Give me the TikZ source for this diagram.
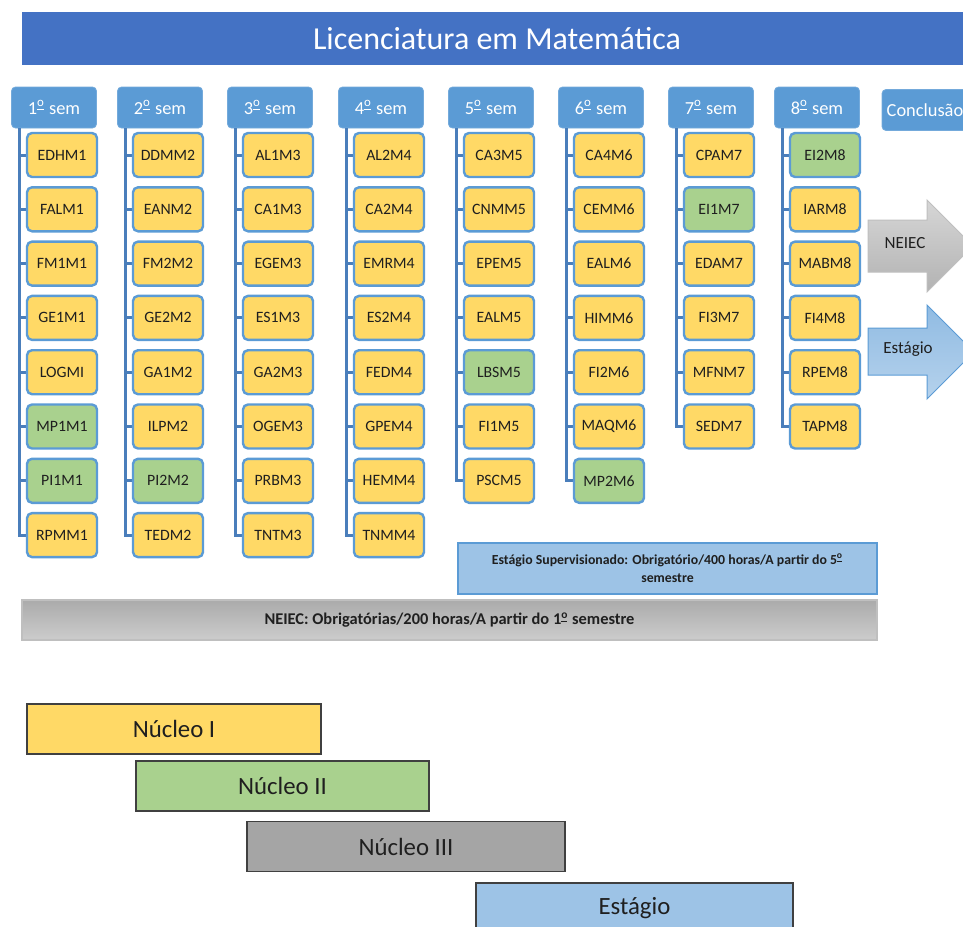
\documentclass[tikz,border=0pt]{standalone}
\usepackage{fontspec}
\setmainfont{Carlito}
\usepackage{tikz}
\usetikzlibrary{positioning}
\definecolor{titleblue}{HTML}{4472C4}
\definecolor{semblue}{HTML}{5B9BD5}
\definecolor{linkblue}{HTML}{4A7EBB}
\definecolor{yl}{HTML}{FFD966}
\definecolor{gr}{HTML}{A9D18E}
\definecolor{coregry}{HTML}{A5A5A5}
\definecolor{stagblue}{HTML}{9DC3E6}
\definecolor{txtdark}{HTML}{1F1F1F}
% ordinal mark with its bar, as in "1º"
\newcommand{\ordsup}{\textsuperscript{\underline{o}}}

\begin{document}
\begin{tikzpicture}[
  x=0.5pt, y=-0.5pt,
  every node/.style={align=center, inner sep=0pt},
  titlebar/.style={fill=titleblue, text=white, minimum width=475pt,
                   minimum height=26.5pt, font=\fontsize{16}{19}\selectfont},
  semhead/.style={fill=semblue, draw=semblue!85!white, rounded corners=2pt,
                  text=white, minimum width=42.5pt, minimum height=20.5pt,
                  font=\fontsize{9.2}{11}\selectfont},
  course/.style={draw=semblue, line width=1.2pt, rounded corners=2.5pt,
                 minimum width=35pt, minimum height=22pt, text=txtdark,
                 font=\fontsize{7.9}{9}\selectfont},
  tree/.style={draw=linkblue, line width=1.5pt},
  bigarrow/.style={draw=#1, line width=0.5pt},
  arrowlbl/.style={text=txtdark, font=\fontsize{8.5}{10}\selectfont},
  infobar/.style={text=txtdark, font=\fontsize{6.9}{9}\selectfont\bfseries},
  nucbar/.style={draw=black!75, line width=0.6pt, minimum height=25pt,
                 text=txtdark, font=\fontsize{12.4}{14}\selectfont}
]
  \useasboundingbox (0,0) rectangle (963,926);

  % --- Title ---
  \node[titlebar] (title) at (497,38.5) {Licenciatura em Matemática};

  % --- Semesters with their courses ---
  \foreach \sm/\hx/\list in {
    1/54/{EDHM1/yl,FALM1/yl,FM1M1/yl,GE1M1/yl,LOGMI/yl,MP1M1/gr,PI1M1/gr,RPMM1/yl},
    2/160/{DDMM2/yl,EANM2/yl,FM2M2/yl,GE2M2/yl,GA1M2/yl,ILPM2/yl,PI2M2/gr,TEDM2/yl},
    3/270/{AL1M3/yl,CA1M3/yl,EGEM3/yl,ES1M3/yl,GA2M3/yl,OGEM3/yl,PRBM3/yl,TNTM3/yl},
    4/381/{AL2M4/yl,CA2M4/yl,EMRM4/yl,ES2M4/yl,FEDM4/yl,GPEM4/yl,HEMM4/yl,TNMM4/yl},
    5/491/{CA3M5/yl,CNMM5/yl,EPEM5/yl,EALM5/yl,LBSM5/gr,FI1M5/yl,PSCM5/yl},
    6/601/{CA4M6/yl,CEMM6/yl,EALM6/yl,HIMM6/yl,FI2M6/yl,MAQM6/yl,MP2M6/gr},
    7/711/{CPAM7/yl,EI1M7/gr,EDAM7/yl,FI3M7/yl,MFNM7/yl,SEDM7/yl},
    8/817/{EI2M8/gr,IARM8/yl,MABM8/yl,FI4M8/yl,RPEM8/yl,TAPM8/yl}}{
    \node[semhead] (h\sm) at (\hx,107.5) {\sm\ordsup\ sem};
    \coordinate (t\sm) at ([xshift=4.25pt]h\sm.south west);
    \foreach \nm/\nc [count=\k] in \list {
      \draw[tree] (t\sm) |- ({\hx-20},{155+54.3*(\k-1)});
      \node[course, fill=\nc] (c\sm-\k) at ({\hx+8},{155+54.3*(\k-1)}) {\nm};
    }
  }
  \node[semhead, minimum width=43pt] (concl) at (925,110) {Conclusão};

  % --- Arrows toward the conclusion ---
  \path[bigarrow=black!25, top color=black!16, bottom color=black!30]
    (868,220) -- (927,220) -- (927,200) -- (973,246) -- (927,292)
    -- (927,272) -- (868,272) -- cycle;
  \node[arrowlbl] (neiec) at (905,243) {NEIEC};
  \path[bigarrow=semblue, top color=stagblue!80!semblue, bottom color=stagblue!75!white]
    (868,328) -- (927,328) -- (927,305) -- (974,352) -- (927,399)
    -- (927,375) -- (868,375) -- cycle;
  \node[arrowlbl] (estagio) at (908,349) {Estágio};

  % --- Requirement bars ---
  \node[infobar, fill=stagblue, draw=semblue, line width=0.6pt,
        minimum width=209.5pt, minimum height=25.5pt] (estsup) at (667.5,568.5)
    {Estágio Supervisionado: Obrigatório/400 horas/A partir do 5\ordsup\\semestre};
  \node[infobar, top color=black!33, bottom color=black!20, draw=black!25,
        line width=0.6pt, minimum width=427.5pt, minimum height=20pt,
        font=\fontsize{8.2}{9}\selectfont\bfseries] (neiecbar) at (449.5,620)
    {NEIEC: Obrigatórias/200 horas/A partir do 1\ordsup\ semestre};

  % --- Nuclei (legend) ---
  \node[nucbar, fill=yl, minimum width=147pt] (nuc1) at (174,729) {Núcleo I};
  \node[nucbar, fill=gr, minimum width=146.5pt] (nuc2) at (282.5,786) {Núcleo II};
  \node[nucbar, fill=coregry, minimum width=159pt] (nuc3) at (406,846.5) {Núcleo III};
  \node[nucbar, fill=stagblue, minimum width=158.5pt] (nuc4) at (634.5,908) {Estágio};
\end{tikzpicture}
\end{document}
